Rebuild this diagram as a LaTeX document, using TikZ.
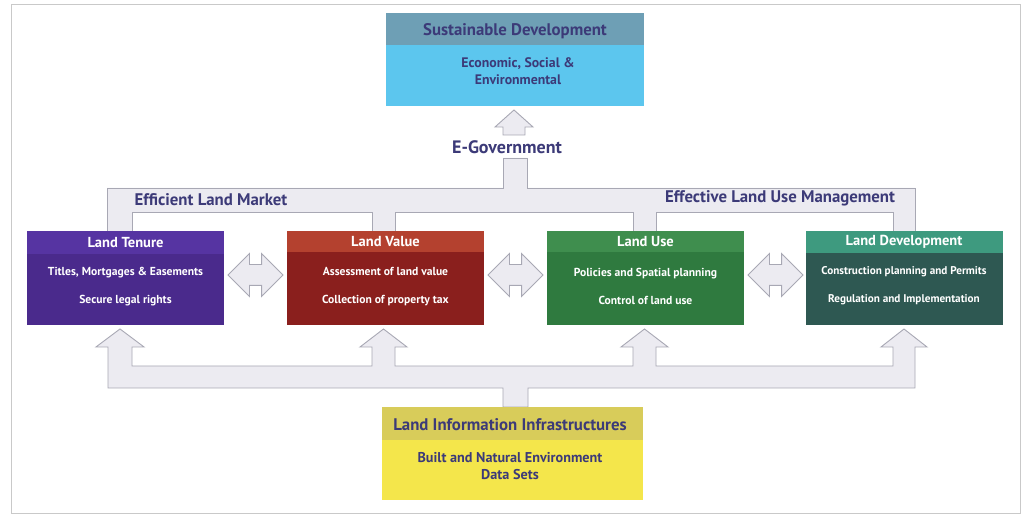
\documentclass[tikz,border=0pt]{standalone}
\usepackage{fontspec}
\setmainfont{PT Sans}
\usetikzlibrary{shapes.arrows}

% --- Colores ---
\definecolor{ink}{HTML}{3C3A78}
\definecolor{bandfill}{HTML}{ECEBF1}
\definecolor{bandline}{HTML}{A8A8B4}
\definecolor{framegray}{HTML}{C9C9C9}
\definecolor{tenureHead}{HTML}{5634A2}
\definecolor{tenureBody}{HTML}{4A2A8C}
\definecolor{valueHead}{HTML}{B4412F}
\definecolor{valueBody}{HTML}{8A1F1D}
\definecolor{useHead}{HTML}{3F8E4E}
\definecolor{useBody}{HTML}{2F7A3F}
\definecolor{devHead}{HTML}{3E9A7F}
\definecolor{devBody}{HTML}{2E5852}
\definecolor{sustHead}{HTML}{6E9FB5}
\definecolor{sustBody}{HTML}{5CC6EE}
\definecolor{infoHead}{HTML}{D8CC5A}
\definecolor{infoBody}{HTML}{F4E64B}

\begin{document}
\begin{tikzpicture}[x=1pt, y=-1pt,
  band/.style={fill=bandfill, draw=bandline, line width=0.9pt, line join=miter},
  panel/.style={minimum width=197pt, minimum height=94pt, inner sep=0pt, outer sep=0pt},
  wide/.style={minimum width=258pt, minimum height=93pt, inner sep=0pt, outer sep=0pt},
  head/.style={text=white, font=\bfseries\fontsize{14.5}{16}\selectfont},
  body/.style={text=white, align=center, font=\bfseries\fontsize{11.6}{28}\selectfont},
  tag/.style={text=ink, font=\bfseries\fontsize{16.8}{18}\selectfont},
  swap/.style={double arrow, band, minimum height=55pt, inner xsep=0pt,
    inner ysep=10pt, double arrow head extend=11pt}
]
  \useasboundingbox (0,0) rectangle (1026,518);
  \fill[white] (0,0) rectangle (1026,518);
  \draw[framegray, line width=1pt] (11,5) rectangle (1020,513);

  % --- Banda superior: mercado y gestion hacia E-Government ---
  \draw[band] (107,231) -- (107,188) -- (503,188) -- (503,158) -- (527,158)
    -- (527,188) -- (915,188) -- (915,231) -- (893,231) -- (893,212)
    -- (656,212) -- (656,231) -- (633,231) -- (633,212) -- (395,212)
    -- (395,231) -- (372,231) -- (372,212) -- (132,212) -- (132,231) -- cycle;

  % --- Flecha hacia Sustainable Development ---
  \draw[band] (503,135) -- (503,127) -- (495,127) -- (514,110) -- (533,127)
    -- (525,127) -- (525,135) -- cycle;

  % --- Banda inferior: infraestructura hacia las cuatro funciones ---
  \draw[band] (503,407) -- (503,388) -- (108,388) -- (108,347) -- (96,347)
    -- (120,329) -- (144,347) -- (132,347) -- (132,366) -- (372,366)
    -- (372,347) -- (360,347) -- (383.5,329) -- (407,347) -- (395,347)
    -- (395,366) -- (633,366) -- (633,347) -- (621,347) -- (644.5,329)
    -- (668,347) -- (656,347) -- (656,366) -- (893,366) -- (893,347)
    -- (881,347) -- (904,329) -- (927,347) -- (915,347) -- (915,388)
    -- (528,388) -- (528,407) -- cycle;

  % --- Sustainable Development ---
  \node[wide, fill=sustBody] (sust) at (514.5,59.5) {};
  \fill[sustHead] (sust.north west) rectangle ([yshift=-32pt]sust.north east);
  \node[tag] (sustT) at (515,31) {Sustainable Development};
  \node[tag, align=center, font=\bfseries\fontsize{13.8}{17}\selectfont] (sustB) at (518,71)
    {Economic, Social \&\\Environmental};

  % --- Etiquetas de las bandas ---
  \node[tag, font=\bfseries\fontsize{18}{20}\selectfont] (egov) at (507,147) {E-Government};
  \node[tag] (market) at (211,200) {Efficient Land Market};
  \node[tag] (manage) at (780,198) {Effective Land Use Management};

  % --- Cuatro funciones ---
  \node[panel, fill=tenureBody] (tenure) at (125.5,278) {};
  \fill[tenureHead] (tenure.north west) rectangle ([yshift=-23pt]tenure.north east);
  \node[head] (tenureT) at (125.5,243) {Land Tenure};
  \node[body] (tenureB) at (125.5,287) {Titles, Mortgages \& Easements\\Secure legal rights};

  \node[panel, fill=valueBody] (value) at (385.5,278) {};
  \fill[valueHead] (value.north west) rectangle ([yshift=-21pt]value.north east);
  \node[head] (valueT) at (385.5,242) {Land Value};
  \node[body] (valueB) at (385.5,287) {Assessment of land value\\Collection of property tax};

  \node[panel, fill=useBody] (use) at (645.5,278) {};
  \fill[useHead] (use.north west) rectangle ([yshift=-21pt]use.north east);
  \node[head] (useT) at (645.5,242) {Land Use};
  \node[body] (useB) at (645.5,286) {Policies and Spatial planning\\Control of land use};

  \node[panel, fill=devBody] (dev) at (904,278) {};
  \fill[devHead] (dev.north west) rectangle ([yshift=-22pt]dev.north east);
  \node[head] (devT) at (904,242) {Land Development};
  \node[body, font=\bfseries\fontsize{11.2}{28}\selectfont] (devB) at (904,286)
    {Construction planning and Permits\\Regulation and Implementation};

  % --- Flechas dobles entre funciones ---
  \node[swap] (tv) at (255.5,275) {};
  \node[swap] (vu) at (515.5,275) {};
  \node[swap] (ud) at (775.5,275) {};

  % --- Land Information Infrastructures ---
  \node[wide, minimum width=261pt, fill=infoBody] (info) at (512.5,454) {};
  \fill[infoHead] (info.north west) rectangle ([yshift=-33pt]info.north east);
  \node[tag] (infoT) at (510,425) {Land Information Infrastructures};
  \node[tag, align=center, font=\bfseries\fontsize{14.2}{17}\selectfont] (infoB) at (510,466)
    {Built and Natural Environment\\Data Sets};

\end{tikzpicture}
\end{document}
